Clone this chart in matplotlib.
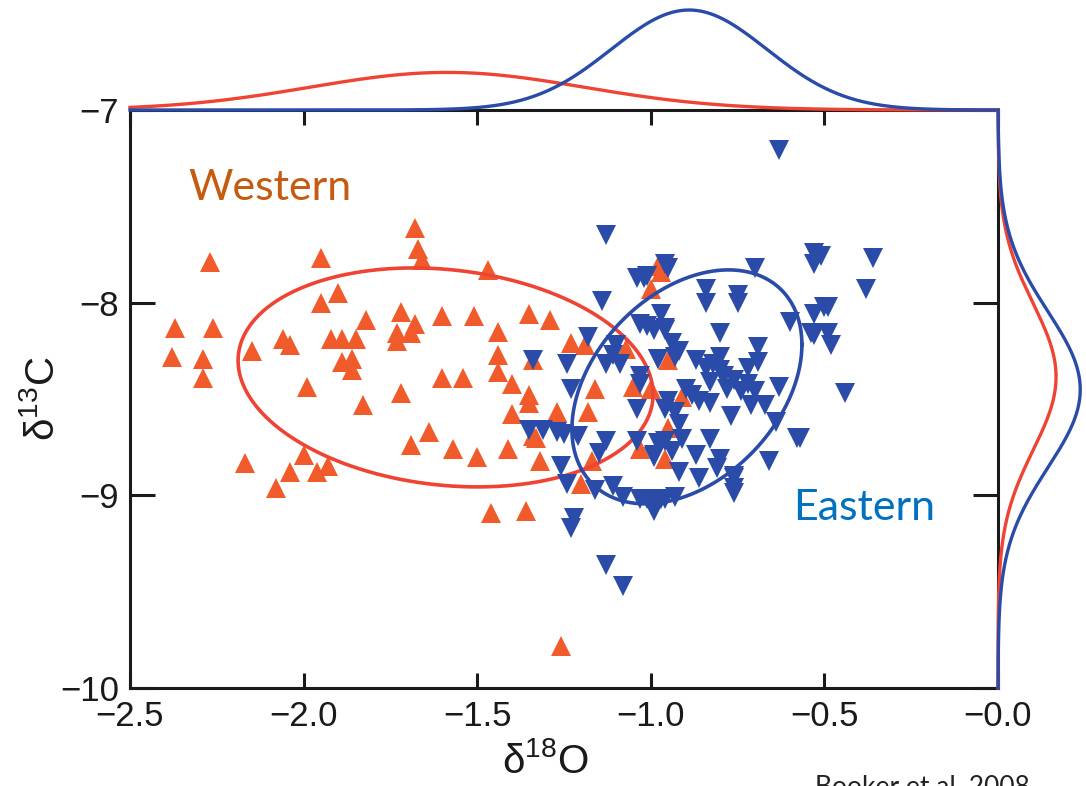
import numpy as np
import matplotlib.pyplot as plt

plt.rcParams['mathtext.fontset'] = 'custom'
plt.rcParams['mathtext.rm'] = 'Liberation Sans'
plt.rcParams['mathtext.it'] = 'Liberation Sans:italic'

# Western samples (up triangles)
west_d18o = [-2.27, -1.95, -1.68, -1.67, -1.66, -1.47, -1.95, -1.90, -2.37, -2.26,
             -2.38, -2.29, -2.29, -2.15, -2.06, -2.04, -1.92, -1.89, -1.85, -1.82,
             -1.89, -1.86, -1.86, -1.99, -1.83, -1.72, -1.68, -1.73, -1.73, -1.69,
             -1.60, -1.51, -1.35, -1.29, -1.44, -1.44, -1.44, -1.60, -1.54, -1.72,
             -1.40, -1.35, -1.35, -1.23, -1.19, -1.27, -1.40, -1.34, -1.64, -1.69,
             -1.57, -1.50, -1.41, -1.32, -2.17, -2.00, -2.04, -1.96, -1.93, -2.08,
             -1.46, -1.36, -1.26, -1.20, -1.17, -1.18, -1.16, -1.05, -1.00, -1.33,
             -1.03, -0.96, -1.34, -1.07, -1.00, -0.97, -0.95, -0.98, -0.91, -0.95]
west_d13c = [-7.79, -7.77, -7.61, -7.72, -7.78, -7.83, -8.00, -7.95, -8.13, -8.13,
             -8.28, -8.29, -8.39, -8.25, -8.19, -8.22, -8.19, -8.19, -8.19, -8.09,
             -8.31, -8.29, -8.35, -8.44, -8.53, -8.05, -8.11, -8.16, -8.20, -8.16,
             -8.07, -8.07, -8.06, -8.09, -8.15, -8.27, -8.36, -8.39, -8.39, -8.47,
             -8.42, -8.48, -8.52, -8.21, -8.22, -8.57, -8.58, -8.69, -8.67, -8.74,
             -8.76, -8.80, -8.76, -8.82, -8.83, -8.79, -8.88, -8.88, -8.85, -8.96,
             -9.09, -9.08, -9.78, -8.94, -8.82, -8.57, -8.45, -8.44, -8.45, -8.70,
             -8.76, -8.81, -8.30, -8.24, -7.93, -7.84, -8.30, -7.81, -8.49, -8.65]

# Eastern samples (down triangles)
east_d18o = [-0.63, -1.13, -0.96, -0.95, -1.04, -1.01, -1.14, -0.84, -0.75, -0.70,
             -0.53, -0.53, -0.36, -0.38, -0.50, -0.53, -0.60, -0.54, -0.49, -0.48,
             -0.44, -0.57, -0.66, -0.76, -0.76, -0.80, -0.69, -0.69, -0.63, -0.84,
             -0.75, -0.97, -1.01, -0.96, -0.94, -0.98, -0.93, -0.72, -0.84, -0.80,
             -0.83, -0.78, -0.74, -0.88, -0.83, -0.77, -0.71, -0.67, -0.64, -0.93,
             -0.92, -0.98, -0.91, -0.83, -0.94, -0.87, -0.80, -0.99, -0.92, -0.86,
             -0.81, -0.76, -0.76, -0.58, -0.53, -0.97, -0.99, -1.01, -0.93, -1.35,
             -1.31, -1.27, -1.25, -1.21, -1.23, -1.13, -1.15, -1.26, -1.24, -1.16,
             -1.11, -1.08, -1.03, -0.99, -0.96, -1.04, -1.04, -0.99, -0.96, -1.03,
             -0.96, -1.22, -1.23, -1.02, -0.51, -0.49, -1.03, -0.99, -0.96, -1.18,
             -1.10, -1.24, -1.34, -1.13, -1.09, -0.98, -1.03, -0.92, -1.13, -1.08,
             -0.87, -0.82, -0.79, -0.76, -0.72, -0.70, -0.80, -0.95, -0.90, -0.86,
             -1.11]
east_d13c = [-7.21, -7.65, -7.80, -7.82, -7.87, -7.86, -7.99, -7.93, -7.96, -7.82,
             -7.74, -7.80, -7.77, -7.93, -8.02, -8.06, -8.10, -8.16, -8.16, -8.22,
             -8.47, -8.70, -8.82, -8.96, -8.90, -8.16, -8.23, -8.31, -8.44, -8.00,
             -8.00, -8.06, -8.12, -8.13, -8.21, -8.29, -8.28, -8.34, -8.34, -8.35,
             -8.41, -8.45, -8.46, -8.48, -8.52, -8.59, -8.53, -8.53, -8.62, -8.57,
             -8.63, -8.73, -8.71, -8.71, -8.77, -8.79, -8.81, -8.80, -8.88, -8.91,
             -8.86, -8.91, -8.99, -8.70, -8.17, -9.02, -9.08, -9.02, -9.01, -8.66,
             -8.66, -8.67, -8.68, -8.69, -8.45, -8.72, -8.78, -8.85, -8.94, -8.97,
             -8.95, -9.01, -9.02, -9.05, -9.02, -8.55, -8.72, -8.79, -8.72, -8.42,
             -8.55, -9.12, -9.17, -7.87, -7.76, -8.02, -8.11, -8.14, -8.14, -8.18,
             -8.22, -8.32, -8.30, -8.32, -8.32, -8.29, -8.38, -8.25, -9.36, -9.47,
             -8.30, -8.32, -8.38, -8.40, -8.42, -8.46, -8.28, -8.51, -8.45, -8.51,
             -8.27]

# confidence ellipses: centre x, centre y, var x, var y, cov xy
west_ell = (-1.591, -8.388, 0.3572, 0.3229, -0.0523)
east_ell = (-0.896, -8.437, 0.1097, 0.3686, 0.0728)

c_west_pts = '#F15A2B'
c_west_line = '#EF4433'
c_east = '#2A4BA8'


def normal_fit(vals, grid):
    # normal density from sample mean/sd, scaled by sample count
    vals = np.asarray(vals)
    mu, sd = vals.mean(), vals.std(ddof=1)
    return len(vals) * np.exp(-0.5 * ((grid - mu) / sd) ** 2) / (sd * np.sqrt(2 * np.pi))


def ellipse(cx, cy, vx, vy, cxy):
    t = np.linspace(0, 2 * np.pi, 300)
    L = np.linalg.cholesky(np.array([[vx, cxy], [cxy, vy]]))
    p = L @ np.vstack([np.cos(t), np.sin(t)])
    return cx + p[0], cy + p[1]


W, H = 1086, 786
fig = plt.figure(figsize=(W / 100, H / 100), dpi=100)
ax = fig.add_axes([130 / W, 98 / H, 868 / W, 578 / H])
ax_top = fig.add_axes([130 / W, 676 / H, 868 / W, 110 / H])
ax_right = fig.add_axes([998 / W, 98 / H, 88 / W, 578 / H])

ax.plot(west_d18o, west_d13c, ls='none', marker='^', ms=14, mew=0, color=c_west_pts, zorder=2)
ex, ey = ellipse(*west_ell)
ax.plot(ex, ey, color=c_west_line, lw=2.6, zorder=3)
ax.plot(east_d18o, east_d13c, ls='none', marker='v', ms=14, mew=0, color=c_east, zorder=4)
ex, ey = ellipse(*east_ell)
ax.plot(ex, ey, color=c_east, lw=2.6, zorder=5)

ax.set_xlim(-2.5, 0)
ax.set_ylim(-10, -7)
ax.set_xticks([-2.5, -2.0, -1.5, -1.0, -0.5, 0.0])
ax.set_xticklabels(['\u22122.5', '\u22122.0', '\u22121.5', '\u22121.0', '\u22120.5', '\u22120.0'])
ax.set_yticks([-10, -9, -8, -7])
ax.set_yticklabels(['\u221210', '\u22129', '\u22128', '\u22127'])
ax.tick_params(direction='in', top=True, right=True, width=2.2, color='#1a1a1a',
               labelsize=25, labelcolor='#1a1a1a', labelfontfamily='Liberation Sans')
ax.tick_params(axis='x', length=11, pad=9)
ax.tick_params(axis='y', length=18, pad=8)
for s in ax.spines.values():
    s.set_linewidth(2.2)
    s.set_color('#1a1a1a')

ax.set_xlabel('\u03b4$^{18}$O', fontsize=29, family='Liberation Sans', color='#1a1a1a')
ax.set_ylabel('\u03b4$^{13}$C', fontsize=29, family='Liberation Sans', color='#1a1a1a')
ax.xaxis.set_label_coords(0.478, -0.093)
ax.yaxis.set_label_coords(-0.078, 0.5)

# marginal densities
gx = np.linspace(-2.5, 0, 400)
dw, de = normal_fit(west_d18o, gx), normal_fit(east_d18o, gx)
ax_top.plot(gx, dw, color=c_west_line, lw=2.4, clip_on=False)
ax_top.plot(gx, de, color=c_east, lw=2.4, clip_on=False)
ax_top.set_xlim(-2.5, 0)
ax_top.set_ylim(0, max(dw.max(), de.max()) * 1.1)
ax_top.axis('off')

gy = np.linspace(-10, -7, 400)
dw, de = normal_fit(west_d13c, gy), normal_fit(east_d13c, gy)
ax_right.plot(dw, gy, color=c_west_line, lw=2.4, clip_on=False)
ax_right.plot(de, gy, color=c_east, lw=2.4, clip_on=False)
ax_right.set_ylim(-10, -7)
ax_right.set_xlim(0, max(dw.max(), de.max()) * 1.07)
ax_right.axis('off')

fig.text(188 / W, (H - 200) / H, 'Western', color='#C55A11', fontsize=31,
         family='Lato', va='baseline')
fig.text(793 / W, (H - 520) / H, 'Eastern', color='#0070C0', fontsize=31,
         family='Lato', va='baseline')
fig.text(815 / W, (H - 795) / H, 'Booker et al. 2008', color='#222222', fontsize=19,
         family='Lato', va='baseline')

fig.savefig('out.png', dpi=100)
